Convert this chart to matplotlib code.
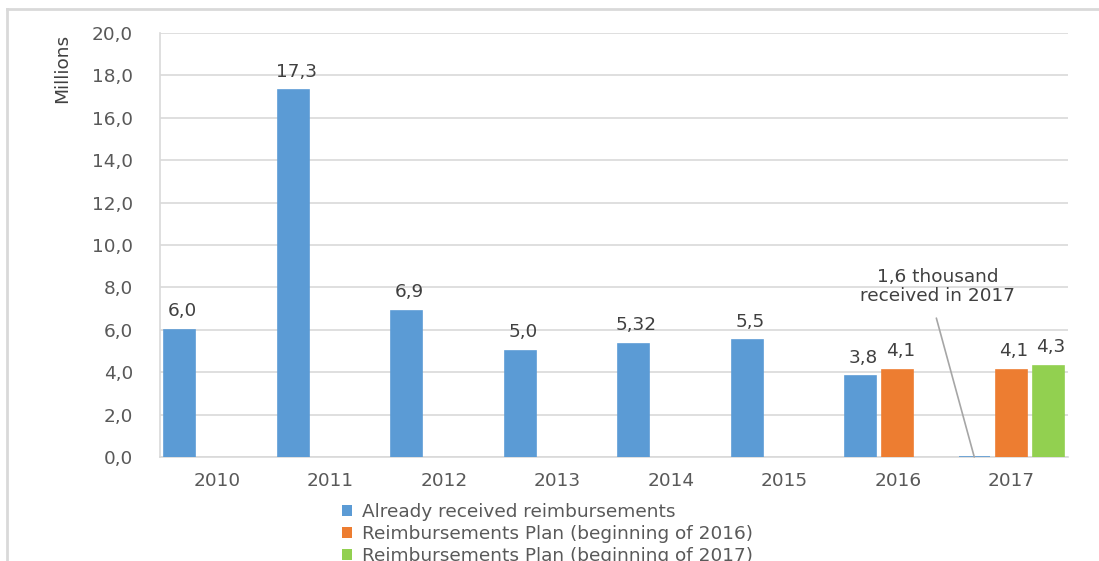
import matplotlib.pyplot as plt
import numpy as np
from matplotlib.lines import Line2D
from matplotlib.patches import Patch

years = ["2010", "2011", "2012", "2013", "2014", "2015", "2016", "2017"]

# millions; 2017 received is 1.6 thousand
received = [6.0, 17.3, 6.9, 5.0, 5.32, 5.5, 3.8, 0.0016]
plan_2016 = [0, 0, 0, 0, 0, 0, 4.1, 4.1]
plan_2017 = [0, 0, 0, 0, 0, 0, 0, 4.3]

series = [
    ("Already received reimbursements", received, "#5B9BD5"),
    ("Reimbursements Plan (beginning of 2016)", plan_2016, "#ED7D31"),
    ("Reimbursements Plan (beginning of 2017)", plan_2017, "#92D050"),
]

TEXT = "#595959"
LABEL = "#404040"
GRID = "#d9d9d9"
FS = 13.3


def fmt(v):
    s = f"{v:.1f}" if round(v, 1) == v else f"{v:.2f}"
    return s.replace(".", ",")


fig = plt.figure(figsize=(10.99, 5.61), dpi=100)
ax = fig.add_axes([0.1456, 0.1854, 0.8262, 0.7558])

x = np.arange(len(years))
step = 0.326
width = 0.27

for i, (name, vals, color) in enumerate(series):
    offs = (i - 1) * step
    for xi, v in zip(x, vals):
        if v <= 0:
            continue
        # thin edge in the fill colour keeps the near-zero bar visible
        ax.bar(xi + offs, v, width=width, color=color, edgecolor=color,
               linewidth=1.2, zorder=3)
        if v >= 1:
            ax.annotate(fmt(v), (xi + offs, v), xytext=(2, 7),
                        textcoords="offset points", ha="center", va="bottom",
                        fontsize=FS, color=LABEL)

# note for the almost-empty 2017 received bar
ax.text(6.35, 8.05, "1,6 thousand\nreceived in 2017", ha="center", va="center",
        fontsize=FS, color=LABEL, linespacing=1.1)
ax.annotate("", xy=(7 - step, received[7]), xytext=(6.34, 6.55),
            arrowprops=dict(arrowstyle="-", color="#a6a6a6", lw=1.2,
                            shrinkA=0, shrinkB=0))

ax.set_xlim(-0.5, len(years) - 0.5)
ax.set_ylim(0, 20)
yt = np.arange(0, 20.1, 2)
ax.set_yticks(yt)
ax.set_yticklabels([f"{t:.1f}".replace(".", ",") for t in yt])
ax.set_xticks(x)
ax.set_xticklabels(years)
ax.tick_params(axis="both", length=0, labelsize=FS, labelcolor=TEXT)
ax.tick_params(axis="y", pad=19.5)
ax.tick_params(axis="x", pad=11)

ax.grid(axis="y", color=GRID, lw=1.2, zorder=0)
for side in ("top", "right"):
    ax.spines[side].set_visible(False)
for side in ("left", "bottom"):
    ax.spines[side].set_color(GRID)
    ax.spines[side].set_linewidth(1.2)

fig.text(62 / 1099, 1 - 68 / 561, "Millions", rotation=90, ha="center",
         va="center", fontsize=FS, color=LABEL)

handles = [Patch(facecolor=c, edgecolor="none") for _, _, c in series]
fig.legend(handles, [n for n, _, _ in series], loc="upper left",
           bbox_to_anchor=(333 / 1099, 1 - 494 / 561), frameon=False,
           fontsize=FS, labelcolor=TEXT, handlelength=0.55, handleheight=0.55,
           handletextpad=0.5, labelspacing=0.2, borderpad=0)

# outer chart frame, running off the right and bottom edges
fig.add_artist(Line2D([7 / 1099, 1.0], [1 - 9 / 561, 1 - 9 / 561],
                      color=GRID, lw=2, transform=fig.transFigure))
fig.add_artist(Line2D([7 / 1099, 7 / 1099], [0.0, 1 - 9 / 561],
                      color=GRID, lw=2, transform=fig.transFigure))

fig.savefig("out.png", dpi=100)
